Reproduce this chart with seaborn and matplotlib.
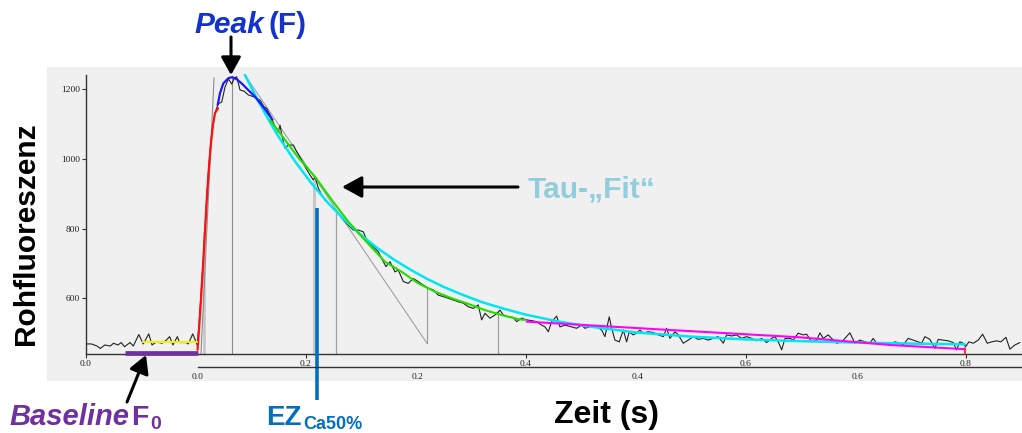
import matplotlib
matplotlib.use("Agg")
import matplotlib.pyplot as plt
import seaborn as sns
import pandas as pd

# ---------------------------------------------------------------- data
# raw fluorescence trace (time in s on the recording axis, raw counts)
time_trace = [0.001, 0.005, 0.010, 0.013, 0.017, 0.022, 0.025, 0.029, 0.032, 0.035,
              0.040, 0.043, 0.048, 0.052, 0.057, 0.060, 0.064, 0.069, 0.073, 0.076,
              0.079, 0.083, 0.085, 0.091, 0.093, 0.097, 0.100, 0.101,
              0.1027, 0.1045, 0.1064, 0.1082, 0.1100, 0.1118, 0.1136, 0.1155, 0.1173,
              0.1200, 0.1234, 0.1264, 0.1294, 0.1325, 0.1348, 0.1370, 0.1400, 0.1436,
              0.1475, 0.1521, 0.1552, 0.1582, 0.1618, 0.1643, 0.1682, 0.1718, 0.1748,
              0.1764, 0.1779, 0.1809, 0.1839, 0.1885, 0.1915, 0.1961, 0.1991, 0.2036,
              0.2066, 0.2082, 0.2112, 0.2143, 0.2173, 0.2218, 0.2248, 0.2294, 0.2339,
              0.2385, 0.2430, 0.2475, 0.2521, 0.2552, 0.2597, 0.2657, 0.2703, 0.2727,
              0.2764, 0.2809, 0.2839, 0.2885, 0.2930, 0.2975, 0.3021, 0.3066, 0.3112,
              0.3157, 0.3203, 0.3248, 0.3294, 0.3339, 0.3385, 0.3430, 0.3475, 0.3521,
              0.3566, 0.3597, 0.3627, 0.3673, 0.3718, 0.3764, 0.3794, 0.3839, 0.3885,
              0.3915, 0.3961, 0.4006, 0.4052, 0.4097, 0.4143, 0.4173, 0.4203, 0.4234,
              0.4279, 0.4309, 0.4355, 0.4415, 0.4461, 0.4506, 0.4536, 0.4597, 0.4643,
              0.4688, 0.4718, 0.4757, 0.4779, 0.4809, 0.4848, 0.4885, 0.4915, 0.4939,
              0.4975, 0.5006, 0.5036, 0.5066, 0.5112, 0.5157, 0.5203, 0.5248, 0.5279,
              0.5309, 0.5355, 0.5385, 0.5430, 0.5475, 0.5521, 0.5566, 0.5612, 0.5657,
              0.5703, 0.5748, 0.5794, 0.5824, 0.5870, 0.5915, 0.5961, 0.6006, 0.6052,
              0.6097, 0.6143, 0.6188, 0.6234, 0.6264, 0.6294, 0.6325, 0.6355, 0.6400,
              0.6430, 0.6475, 0.6521, 0.6552, 0.6597, 0.6643, 0.6673, 0.6703, 0.6748,
              0.6779, 0.6825, 0.6870, 0.6900, 0.6945, 0.6991, 0.7036, 0.7082, 0.7127,
              0.7157, 0.7188, 0.7218, 0.7264, 0.7309, 0.7355, 0.7400, 0.7430, 0.7475,
              0.7521, 0.7566, 0.7597, 0.7627, 0.7673, 0.7718, 0.7748, 0.7794, 0.7839,
              0.7885, 0.7915, 0.7945, 0.7975, 0.7997, 0.8027, 0.8066, 0.8112, 0.8152,
              0.8194, 0.8234, 0.8279, 0.8318, 0.8364, 0.8400, 0.8445, 0.8491]
fluo_trace = [469, 469, 463, 456, 466, 463, 471, 466, 473, 461,
              473, 463, 496, 469, 498, 466, 475, 471, 480, 490,
              466, 490, 473, 473, 469, 498, 475, 466,
              523, 610, 704, 802, 902, 988, 1054, 1100, 1132,
              1158, 1164, 1207, 1230, 1215, 1232, 1236, 1198, 1195,
              1184, 1179, 1174, 1169, 1150, 1145, 1121, 1093, 1078,
              1097, 1069, 1031, 1040, 1040, 1021, 997, 978, 954,
              940, 949, 916, 897, 882, 868, 858, 844, 825,
              810, 796, 796, 791, 767, 753, 734, 705, 691,
              705, 676, 681, 648, 643, 657, 648, 638, 629,
              624, 609, 605, 600, 595, 590, 586, 576, 571,
              581, 538, 557, 543, 552, 566, 552, 547, 545,
              533, 543, 538, 536, 533, 523, 518, 504, 533,
              549, 518, 523, 518, 514, 523, 514, 520, 518,
              509, 490, 547, 514, 480, 475, 509, 475, 504,
              495, 500, 509, 500, 504, 502, 495, 490, 514,
              485, 504, 495, 471, 480, 490, 482, 485, 480,
              485, 490, 471, 495, 492, 495, 485, 490, 485,
              478, 485, 473, 485, 490, 475, 452, 485, 485,
              480, 500, 495, 497, 475, 480, 501, 485, 495,
              485, 471, 475, 485, 501, 471, 480, 475, 471,
              485, 471, 471, 473, 469, 475, 471, 466, 485,
              480, 475, 471, 490, 482, 456, 482, 480, 478,
              473, 452, 475, 471, 461, 475, 471, 480, 497,
              471, 475, 478, 475, 488, 454, 466, 473]

# upstroke fit (red)
rise_t = [0.1014, 0.1027, 0.1045, 0.1064, 0.1082, 0.1100, 0.1118, 0.1136, 0.1155, 0.1173, 0.1200]
rise_f = [452, 509, 595, 696, 796, 897, 977, 1046, 1100, 1132, 1146]

# peak fit (blue)
peak_t = [0.1197, 0.1218, 0.1248, 0.1294, 0.1330, 0.1370, 0.1415, 0.1475, 0.1536, 0.1597, 0.1643, 0.1694]
peak_f = [1155, 1189, 1217, 1232, 1235, 1229, 1217, 1198, 1179, 1155, 1136, 1113]

# decay segment fit (green)
decay_t = [0.1673, 0.1935, 0.2082, 0.2235, 0.2385, 0.2536, 0.2718, 0.2870, 0.3020,
           0.3173, 0.3325, 0.3475, 0.3627, 0.3779, 0.3930, 0.3990]
decay_f = [1112, 1002, 949, 882, 820, 767, 705, 676, 643, 619, 600, 584, 566, 552, 540, 538]

# exponential tau fit (cyan)
tau_t = [0.1445, 0.1550, 0.1650, 0.1750, 0.1900, 0.2050, 0.2200, 0.2350, 0.2500,
         0.2650, 0.2800, 0.2950, 0.3100, 0.3250, 0.3400, 0.3600, 0.3800, 0.4000,
         0.4300, 0.4600, 0.5000, 0.5500, 0.6000, 0.6500, 0.7000, 0.7500, 0.7991]
tau_f = [1241, 1176, 1118, 1064, 993, 930, 874, 825, 782,
         744, 711, 682, 656, 633, 613, 589, 570, 553,
         533, 518, 502, 490, 482, 477, 473, 470, 468]

# late decay fit (magenta)
tail_t = [0.4006, 0.5309, 0.6491, 0.7309, 0.7991]
tail_f = [533, 509, 488, 466, 454]

# baseline F0 window and level, pre-stimulus mean
f0_window = [0.0355, 0.1018]
f0_level = 442
pre_window = [0.0518, 0.1010]
pre_level = 474

# analysis markers (s, counts)
t_rise_mark, f_rise_mark = 0.1077, 790
t_tangent_up = [0.1045, 0.1164]
f_tangent_up = [440, 1233]
t_peak, f_peak = 0.1327, 1236
t_ez50, f_ez50 = 0.2076, 940
t_ez_line, f_ez_line = 0.2097, 858
t_mark2, f_mark2 = 0.2270, 844
t_tangent_dn = [0.1445, 0.3100]
f_tangent_dn = [1241, 471]
t_mark3, f_mark3 = 0.3100, 629
t_mark4, f_mark4 = 0.3745, 560

stim_offset = 0.1018          # second time axis starts at the stimulus
x_ticks = [0.0, 0.2, 0.4, 0.6, 0.8]
x_tick_labels = ["0.0", "0.2", "0.4", "0.6", "0.8"]
x2_ticks = [0.0, 0.2, 0.4, 0.6]
x2_tick_labels = ["0.0", "0.2", "0.4", "0.6"]
y_ticks = [600, 800, 1000, 1200]
y_tick_labels = ["600", "800", "1000", "1200"]

# ---------------------------------------------------------------- figure
sns.set_theme(style="white")
plt.rcParams["font.family"] = ["Liberation Sans", "DejaVu Sans"]

W, H = 1022, 433
fig = plt.figure(figsize=(W / 100, H / 100), dpi=100)
fig.patch.set_facecolor("white")

rect = [47 / W, 1 - 381 / H, (W - 47) / W, (381 - 66.7) / H]
ax = fig.add_axes(rect)
ax.set_facecolor("#f0f0f0")
xlim = (-0.0355, 0.851)
ylim = (362.6, 1265)
ax.set_xlim(*xlim)
ax.set_ylim(*ylim)

axis_col = "#333333"
for s in ("top", "right"):
    ax.spines[s].set_visible(False)
ax.spines["left"].set_position(("data", 0))
ax.spines["left"].set_bounds(440, 1240)
ax.spines["bottom"].set_position(("data", 440))
ax.spines["bottom"].set_bounds(0, xlim[1])
for s in ("left", "bottom"):
    ax.spines[s].set_color(axis_col)
    ax.spines[s].set_linewidth(1.0)

tick_font = dict(family="Liberation Serif", size=6.8, color="#222222")
ax.set_xticks(x_ticks)
ax.set_xticklabels(x_tick_labels, fontdict=tick_font)
ax.set_yticks(y_ticks)
ax.set_yticklabels(y_tick_labels, fontdict=tick_font)
ax.tick_params(axis="x", direction="out", length=3, width=0.8, color=axis_col, pad=1.5,
               bottom=True)
ax.tick_params(axis="y", direction="out", length=3, width=0.8, color=axis_col, pad=1.5,
               left=True)
ax.grid(False)

# second time axis, referenced to the stimulus
ax2 = fig.add_axes(rect)
ax2.patch.set_visible(False)
ax2.set_xlim(xlim[0] - stim_offset, xlim[1] - stim_offset)
ax2.set_ylim(*ylim)
for s in ("top", "right", "left"):
    ax2.spines[s].set_visible(False)
ax2.spines["bottom"].set_position(("data", 402.7))
ax2.spines["bottom"].set_bounds(0, xlim[1] - stim_offset)
ax2.spines["bottom"].set_color(axis_col)
ax2.spines["bottom"].set_linewidth(1.0)
ax2.set_yticks([])
ax2.set_xticks(x2_ticks)
ax2.set_xticklabels(x2_tick_labels, fontdict=tick_font)
ax2.tick_params(axis="x", direction="in", length=9.4, width=0.8, color=axis_col, pad=4)
ax2.grid(False)

# ---------------------------------------------------------------- marker lines
gray = "#8c8c8c"
ax.plot([t_rise_mark, t_rise_mark], [440, f_rise_mark], color="#c4c4c4", lw=1.8, zorder=2)
ax.plot(t_tangent_up, f_tangent_up, color=gray, lw=0.8, zorder=2)
ax.plot([t_peak, t_peak], [440, f_peak], color=gray, lw=0.8, zorder=2)
ax.plot([t_ez50, t_ez50], [440, f_ez50], color="#c8c8c8", lw=2.2, zorder=2)
ax.plot([t_mark2, t_mark2], [440, f_mark2], color="#a0a0a0", lw=0.9, zorder=2)
ax.plot(t_tangent_dn, f_tangent_dn, color="#a0a0a0", lw=0.8, zorder=2)
ax.plot([t_mark3, t_mark3], [f_tangent_dn[1], f_mark3], color="#a0a0a0", lw=0.9, zorder=2)
ax.plot([t_mark4, t_mark4], [440, f_mark4], color="#a0a0a0", lw=0.9, zorder=2)

# ---------------------------------------------------------------- curves
trace = pd.DataFrame({"t": time_trace, "f": fluo_trace})
sns.lineplot(data=trace, x="t", y="f", ax=ax, color="#222222", lw=0.8,
             estimator=None, sort=False, zorder=3)
sns.lineplot(x=tau_t, y=tau_f, ax=ax, color="#00e6f2", lw=1.8, estimator=None, sort=False, zorder=4)
sns.lineplot(x=decay_t, y=decay_f, ax=ax, color="#22dd00", lw=1.5, estimator=None, sort=False, zorder=5)
sns.lineplot(x=tail_t, y=tail_f, ax=ax, color="#ff00ff", lw=1.5, estimator=None, sort=False, zorder=4)
sns.lineplot(x=rise_t, y=rise_f, ax=ax, color="#ff1010", lw=1.6, estimator=None, sort=False, zorder=5)
sns.lineplot(x=peak_t, y=peak_f, ax=ax, color="#1a1aff", lw=1.6, estimator=None, sort=False, zorder=5)

ax.plot(pre_window, [pre_level, pre_level], color="#f2f200", lw=1.5, zorder=5)
ax.plot(f0_window, [f0_level, f0_level], color="#7030a0", lw=3.4, zorder=6,
        solid_capstyle="butt", clip_on=False)
ax.plot([0.7995, 0.7995], [441, 458], color="#ff2020", lw=1.2, zorder=5)

# calcium transient 50% marker, running down to its label
ax.plot([t_ez_line, t_ez_line], [f_ez_line, 308], color="#0070c0", lw=2.6,
        zorder=7, clip_on=False, solid_capstyle="butt")

ax.set_xlabel("")
ax.set_ylabel("")
if ax.get_legend():
    ax.get_legend().remove()

# ---------------------------------------------------------------- labels
def fx(x):
    return x / W


def fy(y):
    return 1 - y / H


fig.text(fx(26), fy(234), "Rohfluoreszenz", rotation=90, ha="center", va="center",
         fontsize=21.5, fontweight="bold", color="black")
fig.text(fx(606), fy(423), "Zeit (s)", ha="center", va="baseline",
         fontsize=23, fontweight="bold", color="black")

peak_col = "#1433cc"
fig.text(fx(194), fy(33), "Peak", ha="left", va="baseline", fontsize=21.5,
         fontweight="bold", fontstyle="italic", color=peak_col)
fig.text(fx(268), fy(33), "(F)", ha="left", va="baseline", fontsize=21.5,
         fontweight="bold", color=peak_col)

fig.text(fx(528), fy(198), "Tau-\u201eFit\u201c", ha="left", va="baseline", fontsize=21.5,
         fontweight="bold", color="#92cddc")

base_col = "#7030a0"
fig.text(fx(129), fy(425), "Baseline", ha="right", va="baseline", fontsize=21,
         fontweight="bold", fontstyle="italic", color=base_col)
fig.text(fx(131.5), fy(425), "F", ha="left", va="baseline", fontsize=20.5,
         fontweight="bold", color=base_col)
fig.text(fx(150.5), fy(429), "0", ha="left", va="baseline", fontsize=14,
         fontweight="bold", color=base_col)

ez_col = "#0070c0"
fig.text(fx(266), fy(425), "EZ", ha="left", va="baseline", fontsize=20,
         fontweight="bold", color=ez_col)
fig.text(fx(303), fy(429), "Ca50%", ha="left", va="baseline", fontsize=13,
         fontweight="bold", color=ez_col)


def arrow(x0, y0, x1, y1, hl, hw):
    ax.annotate("", xy=(x1, H - y1), xytext=(x0, H - y0),
                xycoords="figure pixels", textcoords="figure pixels",
                annotation_clip=False,
                arrowprops=dict(arrowstyle=f"-|>,head_length={hl},head_width={hw}",
                                lw=2.2, color="black", shrinkA=0, shrinkB=0))


arrow(231, 37, 231, 75, 0.9, 0.5)
arrow(518, 187, 342, 187, 1.0, 0.55)
arrow(127, 402, 146, 355, 0.9, 0.5)

fig.savefig("out.png", dpi=100, facecolor="white")
